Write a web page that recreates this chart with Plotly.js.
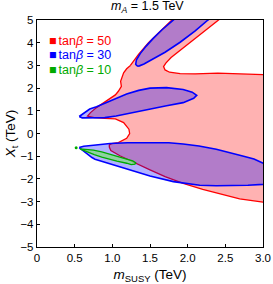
<!DOCTYPE html>
<html>
<head>
<meta charset="utf-8">
<script src="https://cdn.plot.ly/plotly-3.0.1.min.js"></script>
<style>html,body{margin:0;padding:0;background:#fff;}#chart{width:273px;height:284px;}</style>
</head>
<body>
<div id="chart"></div>
<script>
// ---- data ----
const chartTitle = '<i>m</i><sub><i>A</i></sub> = 1.5 TeV';
const seriesNames = ['tan<i>β</i> = 50', 'tan<i>β</i> = 30', 'tan<i>β</i> = 10'];
const seriesColors = ['rgb(255,0,0)', 'rgb(0,0,255)', 'rgb(0,170,0)'];
const seriesFills = ['rgba(255,0,0,0.3)', 'rgba(0,0,255,0.3)', 'rgba(130,220,130,0.75)'];

const xTickVals = [0, 0.5, 1, 1.5, 2, 2.5, 3];
const xTickText = ['0', '0.5', '1.0', '1.5', '2.0', '2.5', '3.0'];
const yTickVals = [-5, -4, -3, -2, -1, 0, 1, 2, 3, 4, 5];

// tan(beta) = 50 allowed region boundary
const tb50X = [1.24, 1.35, 1.48, 1.63, 1.79, 1.86, 2.48, 2.41, 2.15, 1.90, 1.78, 1.71, 1.68, 1.70, 1.76, 1.90, 2.10, 2.40, 2.70, 3.00, 3.10,
               3.10, 3.00, 2.69, 2.45, 2.20, 1.94, 1.70, 1.50, 1.32, 1.10, 0.98, 0.96, 0.96, 0.99, 1.08, 1.19, 1.23, 1.22, 1.15, 1.04, 0.90, 0.76,
               0.67, 0.71, 0.79, 0.88, 0.97, 1.04, 1.08, 1.12, 1.11, 1.13, 1.15, 1.19];
const tb50Y = [3.00, 3.50, 4.00, 4.50, 5.00, 5.20, 5.20, 5.00, 4.33, 3.68, 3.35, 3.10, 2.95, 2.80, 2.70, 2.64, 2.63, 2.66, 2.63, 2.59, 2.58,
               -3.08, -3.02, -2.88, -2.68, -2.46, -2.20, -1.90, -1.60, -1.33, -0.98, -0.75, -0.60, -0.50, -0.45, -0.40, -0.21, 0.00, 0.19, 0.48, 0.64, 0.67, 0.70,
               0.77, 0.92, 1.14, 1.33, 1.52, 1.70, 1.86, 2.08, 2.30, 2.52, 2.67, 2.85];

// tan(beta) = 30 : three separate regions
const tb30UpperX = [1.33, 1.31, 1.32, 1.37, 1.45, 1.54, 1.66, 1.81, 1.88, 2.35, 2.27, 2.10, 1.90, 1.70, 1.52, 1.42, 1.36];
const tb30UpperY = [2.97, 3.05, 3.25, 3.52, 3.85, 4.18, 4.57, 5.00, 5.20, 5.20, 5.00, 4.52, 4.02, 3.58, 3.24, 3.06, 2.98];
const tb30MiddleX = [0.56, 0.60, 0.64, 0.70, 0.79, 0.88, 1.01, 1.19, 1.35, 1.50, 1.72, 1.94, 2.06, 2.12, 2.08, 1.94, 1.72, 1.50, 1.35, 1.20, 1.05, 0.90, 0.75, 0.60];
const tb30MiddleY = [0.75, 0.84, 0.93, 1.08, 1.18, 1.30, 1.50, 1.74, 1.90, 2.00, 2.02, 1.94, 1.82, 1.68, 1.55, 1.36, 1.22, 1.07, 0.96, 0.85, 0.77, 0.70, 0.68, 0.69];
const tb30LowerX = [0.56, 0.62, 0.75, 0.97, 1.20, 1.50, 1.75, 1.94, 2.15, 2.38, 2.60, 2.73, 2.88, 3.00, 3.10, 3.10, 3.00, 2.80, 2.60, 2.38, 2.16, 2.03, 1.81, 1.50, 1.19, 0.97, 0.77, 0.73, 0.62, 0.58];
const tb30LowerY = [-0.62, -0.56, -0.52, -0.44, -0.41, -0.40, -0.41, -0.46, -0.55, -0.69, -0.86, -0.99, -1.12, -1.28, -1.45, -2.20, -2.24, -2.28, -2.30, -2.30, -2.28, -2.23, -2.12, -1.87, -1.57, -1.35, -1.13, -1.06, -0.77, -0.68];

// tan(beta) = 10
const tb10X = [0.57, 0.66, 0.75, 0.86, 0.97, 1.08, 1.19, 1.27, 1.31, 1.30, 1.25, 1.19, 1.06, 0.95, 0.86, 0.76, 0.66, 0.59];
const tb10Y = [-0.68, -0.69, -0.73, -0.81, -0.91, -1.01, -1.12, -1.21, -1.29, -1.35, -1.37, -1.31, -1.22, -1.13, -1.04, -0.93, -0.81, -0.72];
const tb10DotX = [0.52];
const tb10DotY = [-0.63];

// ---- helpers ----
function closed(a) { return a.concat([a[0]]); }
function joinParts(parts) {
  let out = [];
  parts.forEach((p, i) => { if (i > 0) out.push(null); out = out.concat(closed(p)); });
  return out;
}

const traces = [
  { x: closed(tb50X), y: closed(tb50Y), mode: 'lines', fill: 'toself', fillcolor: seriesFills[0],
    line: { color: seriesColors[0], width: 1.3 }, hoverinfo: 'skip', showlegend: false },
  { x: joinParts([tb30UpperX, tb30MiddleX, tb30LowerX]), y: joinParts([tb30UpperY, tb30MiddleY, tb30LowerY]),
    mode: 'lines', fill: 'toself', fillcolor: seriesFills[1], connectgaps: false,
    line: { color: seriesColors[1], width: 1.6 }, hoverinfo: 'skip', showlegend: false },
  { x: closed(tb10X), y: closed(tb10Y), mode: 'lines', fill: 'toself', fillcolor: seriesFills[2],
    line: { color: seriesColors[2], width: 1.3 }, hoverinfo: 'skip', showlegend: false },
  { x: tb10DotX, y: tb10DotY, mode: 'markers', marker: { color: seriesColors[2], size: 3 },
    hoverinfo: 'skip', showlegend: false }
];

const fontFamily = 'Liberation Sans, Arial, sans-serif';
const legendRowsY = [0.909, 0.846, 0.781];
const annotations = seriesNames.map((n, i) => ({
  xref: 'paper', yref: 'paper', x: 0.043, y: legendRowsY[i], xanchor: 'left', yanchor: 'middle',
  showarrow: false, text: '<span style="font-size:12.5px">■</span><span style="font-size:7px"> </span>' + n,
  font: { family: fontFamily, size: 12.5, color: seriesColors[i] }
}));
annotations.push({
  xref: 'paper', yref: 'paper', x: 0.487, y: 1.058, xanchor: 'center', yanchor: 'middle',
  showarrow: false, text: chartTitle, font: { family: fontFamily, size: 12.5, color: '#000' }
});

const layout = {
  width: 273, height: 284,
  margin: { l: 37, r: 10, t: 20, b: 37, pad: 0 },
  paper_bgcolor: '#fff', plot_bgcolor: '#fff',
  font: { family: fontFamily, size: 11, color: '#000' },
  showlegend: false,
  xaxis: {
    range: [0, 3], tickvals: xTickVals, ticktext: xTickText, ticks: 'inside', ticklen: 3, tickwidth: 1, tickcolor: '#000',
    showline: true, mirror: true, linecolor: '#000', linewidth: 1.2, showgrid: false, zeroline: false,
    tickfont: { family: fontFamily, size: 11.5, color: '#000' },
    title: { text: '<i>m</i><sub>SUSY</sub> (TeV)', font: { family: fontFamily, size: 13.5, color: '#000' }, standoff: 9 }
  },
  yaxis: {
    range: [-5, 5], tickvals: yTickVals, ticks: 'inside', ticklen: 3, tickwidth: 1, tickcolor: '#000',
    showline: true, mirror: true, linecolor: '#000', linewidth: 1.2, showgrid: false, zeroline: false,
    tickfont: { family: fontFamily, size: 11.5, color: '#000' },
    title: { text: '<i>X</i><sub>t</sub> (TeV)', font: { family: fontFamily, size: 13.5, color: '#000' }, standoff: 1 }
  },
  annotations: annotations
};

Plotly.newPlot('chart', traces, layout, { staticPlot: true, displayModeBar: false });
</script>
</body>
</html>
